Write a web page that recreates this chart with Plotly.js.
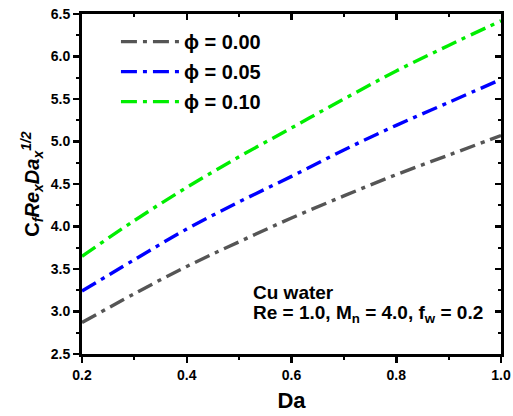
<!DOCTYPE html>
<html><head><meta charset="utf-8">
<script src="https://cdn.plot.ly/plotly-3.0.1.min.js"></script>
<style>html,body{margin:0;padding:0;background:#fff;}#chart{width:513px;height:416px;}</style>
</head><body><div id="chart"></div>
<script>
const da = [0.2, 0.3, 0.4, 0.5, 0.6, 0.7, 0.8, 0.9, 1.0];
const phi000 = [2.87, 3.21, 3.53, 3.82, 4.10, 4.36, 4.61, 4.84, 5.07];
const phi005 = [3.24, 3.61, 3.97, 4.29, 4.59, 4.90, 5.19, 5.46, 5.73];
const phi010 = [3.65, 4.07, 4.46, 4.82, 5.16, 5.50, 5.83, 6.13, 6.42];
const seriesNames = ['\u03d5 = 0.00', '\u03d5 = 0.05', '\u03d5 = 0.10'];
const xTicks = [0.2, 0.4, 0.6, 0.8, 1.0];
const xTickText = ['0.2', '0.4', '0.6', '0.8', '1.0'];
const yTicks = [2.5, 3.0, 3.5, 4.0, 4.5, 5.0, 5.5, 6.0, 6.5];
const yTickText = ['2.5', '3.0', '3.5', '4.0', '4.5', '5.0', '5.5', '6.0', '6.5'];

const colors = ['#555555', '#0000ff', '#00ee00'];
const dash = '16px,6px,4px,6px';
const ys = [phi000, phi005, phi010];
const traces = ys.map((y, i) => ({
  x: da, y: y, name: seriesNames[i], legendgroup: 'g' + i, type: 'scatter', mode: 'lines',
  line: {color: colors[i], width: 3.4, dash: dash, shape: 'spline'}
}));
traces.push({x: [0.2, 1.0], y: [2.5, 2.5], xaxis: 'x2', yaxis: 'y2', mode: 'lines',
  line: {width: 0}, showlegend: false, hoverinfo: 'skip'});

const font = {family: 'Liberation Sans, Arial, sans-serif', color: '#000'};
const axBase = {showgrid: false, zeroline: false, showline: true, linecolor: '#000', linewidth: 3,
  ticklen: 6, tickwidth: 2.5, tickcolor: '#000'};
const layout = {
  width: 513, height: 416,
  margin: {l: 82, r: 12, t: 14, b: 62},
  paper_bgcolor: '#fff', plot_bgcolor: '#fff',
  showlegend: true,
  legend: {x: 0.081, y: 0.976, xanchor: 'left', yanchor: 'top', bgcolor: 'rgba(0,0,0,0)',
    font: Object.assign({}, font, {size: 20, weight: 'bold'}), tracegroupgap: 1, itemwidth: 58},
  xaxis: Object.assign({}, axBase, {
    range: [0.2, 1.0], tickvals: xTicks, ticktext: xTickText, ticks: 'outside',
    minor: {dtick: 0.1, ticks: 'outside', ticklen: 3, tickwidth: 2, tickcolor: '#000'},
    tickfont: Object.assign({}, font, {size: 14, weight: 'bold'}),
    title: {text: '<b>Da</b>', font: Object.assign({}, font, {size: 22}), standoff: 11}
  }),
  yaxis: Object.assign({}, axBase, {
    range: [2.5, 6.5], tickvals: yTicks, ticktext: yTickText, ticks: 'outside',
    minor: {dtick: 0.25, ticks: 'outside', ticklen: 3, tickwidth: 2, tickcolor: '#000'},
    tickfont: Object.assign({}, font, {size: 14, weight: 'bold'}),
    title: {text: '<b>C<sub><i>f</i></sub><i>Re</i><sub><i>x</i></sub><i>Da</i><sub><i>x</i></sub><sup><i>1/2</i></sup></b>',
      font: Object.assign({}, font, {size: 20}), standoff: 6}
  }),
  xaxis2: Object.assign({}, axBase, {
    overlaying: 'x', side: 'top', range: [0.2, 1.0], dtick: 0.2, tick0: 0.2, ticks: 'inside',
    showticklabels: false, anchor: 'y2',
    minor: {dtick: 0.1, ticks: 'inside', ticklen: 3, tickwidth: 2, tickcolor: '#000'}
  }),
  yaxis2: Object.assign({}, axBase, {
    overlaying: 'y', side: 'right', range: [2.5, 6.5], dtick: 0.5, tick0: 2.5, ticks: 'inside',
    showticklabels: false, anchor: 'x2',
    minor: {dtick: 0.25, ticks: 'inside', ticklen: 3, tickwidth: 2, tickcolor: '#000'}
  }),
  annotations: [
    {xref: 'paper', yref: 'paper', x: 0.403, y: 0.182, xanchor: 'left', yanchor: 'middle', showarrow: false,
      text: '<b>Cu water</b>', font: Object.assign({}, font, {size: 19}), align: 'left'},
    {xref: 'paper', yref: 'paper', x: 0.403, y: 0.118, xanchor: 'left', yanchor: 'middle', showarrow: false,
      text: '<b>Re = 1.0, M<sub>n</sub> = 4.0, f<sub>w</sub> = 0.2</b>', font: Object.assign({}, font, {size: 19}), align: 'left'}
  ]
};
Plotly.newPlot('chart', traces, layout, {displayModeBar: false, staticPlot: true});
</script></body></html>
